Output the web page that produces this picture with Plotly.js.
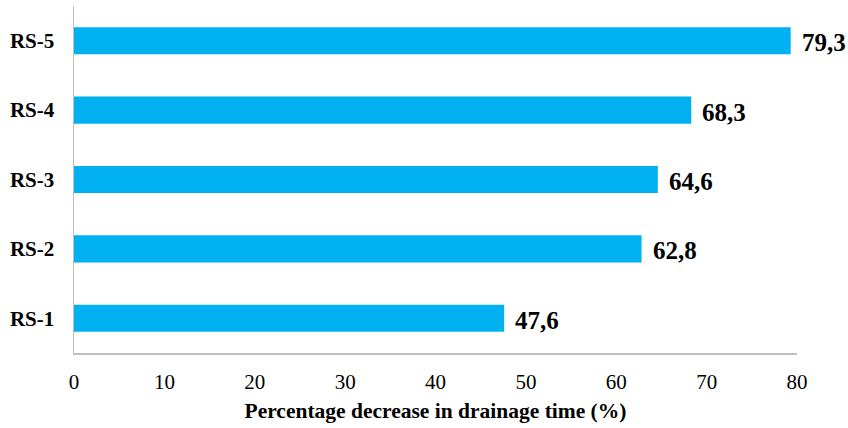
<!DOCTYPE html>
<html><head><meta charset="utf-8">
<script src="https://cdn.plot.ly/plotly-3.0.1.min.js"></script>
<style>html,body{margin:0;padding:0;background:#fff}#chart{width:848px;height:428px}</style>
</head><body><div id="chart"></div>
<script>
const categories = ["RS-1", "RS-2", "RS-3", "RS-4", "RS-5"];
const values = [47.6, 62.8, 64.6, 68.3, 79.3];
const xTicks = [0, 10, 20, 30, 40, 50, 60, 70, 80];

const serif = "Liberation Serif, Times New Roman, serif";
const labels = values.map(v => v.toFixed(1).replace('.', ','));

const annotations = categories.map((c, i) => ({
  x: values[i], y: c, xref: 'x', yref: 'y',
  text: labels[i], showarrow: false, xanchor: 'left', yanchor: 'middle',
  xshift: 9, yshift: -2,
  font: {family: serif, size: 25, color: '#000', weight: 'bold'}
}));

Plotly.newPlot('chart', [{
  type: 'bar', orientation: 'h',
  y: categories, x: values,
  width: 0.39,
  marker: {color: '#00B0F0'},
  hoverinfo: 'none'
}], {
  width: 848, height: 428,
  margin: {l: 74, r: 51, t: 6, b: 75},
  paper_bgcolor: '#fff', plot_bgcolor: '#fff',
  showlegend: false,
  annotations: annotations,
  xaxis: {
    range: [0, 80], tickvals: xTicks, ticktext: xTicks.map(String),
    showgrid: false, zeroline: false,
    showline: true, linecolor: '#BFBFBF', linewidth: 1.5,
    ticks: '', ticklen: 0, ticklabelstandoff: 9,
    tickfont: {family: serif, size: 21, color: '#000'},
    title: {text: 'Percentage decrease in drainage time (%)', font: {family: serif, size: 21.5, color: '#000', weight: 'bold'}, standoff: 10}
  },
  yaxis: {
    showgrid: false, zeroline: false,
    showline: true, linecolor: '#BFBFBF', linewidth: 1.5,
    ticks: '', ticklabelstandoff: 14,
    tickfont: {family: serif, size: 21, color: '#000', weight: 'bold'}
  },
  bargap: 0.61
}, {displayModeBar: false, staticPlot: true});
</script></body></html>
